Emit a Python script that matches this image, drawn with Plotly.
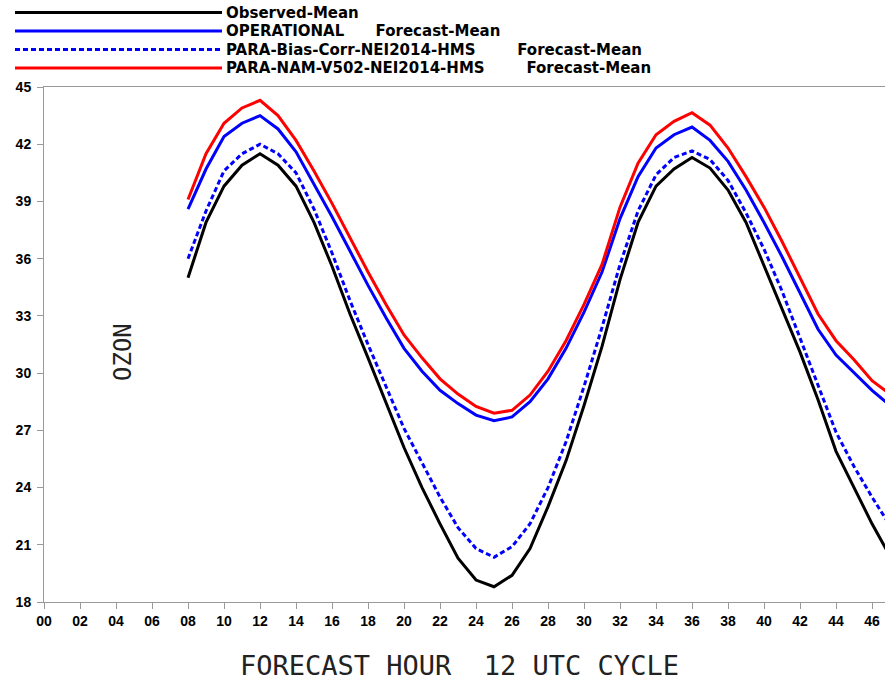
import plotly.graph_objects as go

hours = list(range(8, 48))

observed = [35.0, 37.9, 39.8, 40.9, 41.5, 40.9, 39.8, 37.9, 35.6, 33.1,
            30.8, 28.5, 26.1, 24.0, 22.1, 20.3, 19.15, 18.8, 19.4, 20.8,
            23.0, 25.4, 28.3, 31.4, 34.9, 37.9, 39.8, 40.7, 41.3, 40.75,
            39.6, 37.9, 35.6, 33.4, 31.1, 28.6, 25.9, 24.0, 22.1, 20.4]

operational = [38.6, 40.7, 42.4, 43.1, 43.5, 42.8, 41.6, 39.9, 38.2, 36.4,
               34.6, 32.9, 31.3, 30.1, 29.1, 28.4, 27.8, 27.5, 27.7, 28.5,
               29.7, 31.3, 33.2, 35.3, 38.1, 40.3, 41.8, 42.5, 42.9, 42.2,
               41.1, 39.6, 37.9, 36.1, 34.2, 32.3, 30.95, 30.0, 29.1, 28.3]

bias_corr = [36.0, 38.5, 40.6, 41.5, 42.0, 41.5, 40.5, 38.6, 36.3, 33.8,
             31.5, 29.3, 27.1, 25.3, 23.5, 21.9, 20.8, 20.35, 20.9, 22.1,
             24.0, 26.4, 29.3, 32.4, 35.7, 38.5, 40.4, 41.3, 41.65, 41.2,
             40.1, 38.4, 36.5, 34.3, 31.8, 29.3, 26.9, 25.1, 23.5, 22.0]

nam_v502 = [39.1, 41.5, 43.1, 43.9, 44.3, 43.5, 42.2, 40.6, 38.9, 37.1,
            35.3, 33.6, 32.0, 30.8, 29.7, 28.9, 28.25, 27.9, 28.05, 28.85,
            30.1, 31.7, 33.6, 35.7, 38.7, 41.0, 42.5, 43.2, 43.65, 43.0,
            41.8, 40.3, 38.7, 36.9, 35.0, 33.1, 31.7, 30.7, 29.6, 28.9]

x_tickvals = list(range(0, 48, 2))
x_ticktext = [f"{v:02d}" for v in x_tickvals]
y_tickvals = list(range(18, 46, 3))

NB = "\u00a0"
names = [
    "Observed-Mean",
    "OPERATIONAL" + NB * 6 + "Forecast-Mean",
    "PARA-Bias-Corr-NEI2014-HMS" + NB * 8 + "Forecast-Mean",
    "PARA-NAM-V502-NEI2014-HMS" + NB * 8 + "Forecast-Mean",
]
colors = ["#000000", "#0000ff", "#0000ff", "#ff0000"]
dashes = ["solid", "solid", "5px,3px", "solid"]
series = [observed, operational, bias_corr, nam_v502]

# page geometry (page body margin removed in post_script)
W, H = 885, 681
PLOT_L, PLOT_R, PLOT_T, PLOT_B = 44, 885, 87, 602
ML, MR, MT, MB = PLOT_L, W - PLOT_R, PLOT_T, H - PLOT_B
PW, PH = W - ML - MR, H - MT - MB


def px_x(p):
    return (p - PLOT_L) / PW


def px_y(p):
    return (PLOT_B - p) / PH


fig = go.Figure()
for nm, ys, c, d in zip(names, series, colors, dashes):
    fig.add_trace(go.Scatter(x=hours, y=ys, mode="lines", name=nm,
                             line=dict(color=c, width=3, dash=d),
                             showlegend=False))

# legend drawn as key lines + labels above the plot
legend_rows_px = [12.5, 31, 49.5, 68]
shapes = []
annotations = []
for nm, c, d, ry in zip(names, colors, dashes, legend_rows_px):
    shapes.append(dict(type="line", xref="paper", yref="paper",
                       x0=px_x(15), x1=px_x(222), y0=px_y(ry), y1=px_y(ry),
                       line=dict(color=c, width=3, dash=d)))
    annotations.append(dict(text=nm, xref="paper", yref="paper",
                            x=px_x(224), y=px_y(ry), xanchor="left", yanchor="middle",
                            showarrow=False,
                            font=dict(family="DejaVu Sans, sans-serif", size=15,
                                      color="#000000", weight="bold")))

annotations.append(dict(text="FORECAST HOUR" + NB * 2 + "12 UTC CYCLE", xref="paper", yref="paper",
                        x=px_x(459), y=px_y(665), xanchor="center", yanchor="middle",
                        showarrow=False,
                        font=dict(family="DejaVu Sans Mono, monospace", size=27, color="#222222")))
annotations.append(dict(text="OZON", xref="paper", yref="paper",
                        x=px_x(123), y=px_y(352), xanchor="center", yanchor="middle",
                        showarrow=False, textangle=-90,
                        font=dict(family="DejaVu Sans Mono, monospace", size=24, color="#222222")))

fig.update_layout(
    width=W, height=H,
    margin=dict(l=ML, r=MR, t=MT, b=MB, autoexpand=False),
    paper_bgcolor="white", plot_bgcolor="white",
    showlegend=False,
    xaxis=dict(
        range=[0, 46.72], tickvals=x_tickvals, ticktext=x_ticktext,
        showgrid=False, zeroline=False,
        showline=True, linecolor="#999999", linewidth=1, mirror=True,
        ticks="outside", ticklen=6, tickcolor="#999999",
        tickfont=dict(family="Liberation Sans Narrow, Arial Narrow, Liberation Sans, sans-serif",
                      size=14, color="#000000", weight="bold"),
    ),
    yaxis=dict(
        range=[18, 45], tickvals=y_tickvals,
        showgrid=False, zeroline=False,
        showline=True, linecolor="#999999", linewidth=1,
        ticks="outside", ticklen=6, tickcolor="#999999",
        ticklabelstandoff=3,
        tickfont=dict(family="Liberation Sans, Arial, sans-serif",
                      size=14, color="#000000", weight="bold"),
    ),
    shapes=shapes,
    annotations=annotations,
)

fig.write_html(
    "out.html",
    config={"displayModeBar": False},
    post_script="document.body.style.margin='0';document.body.style.overflow='hidden';",
)
